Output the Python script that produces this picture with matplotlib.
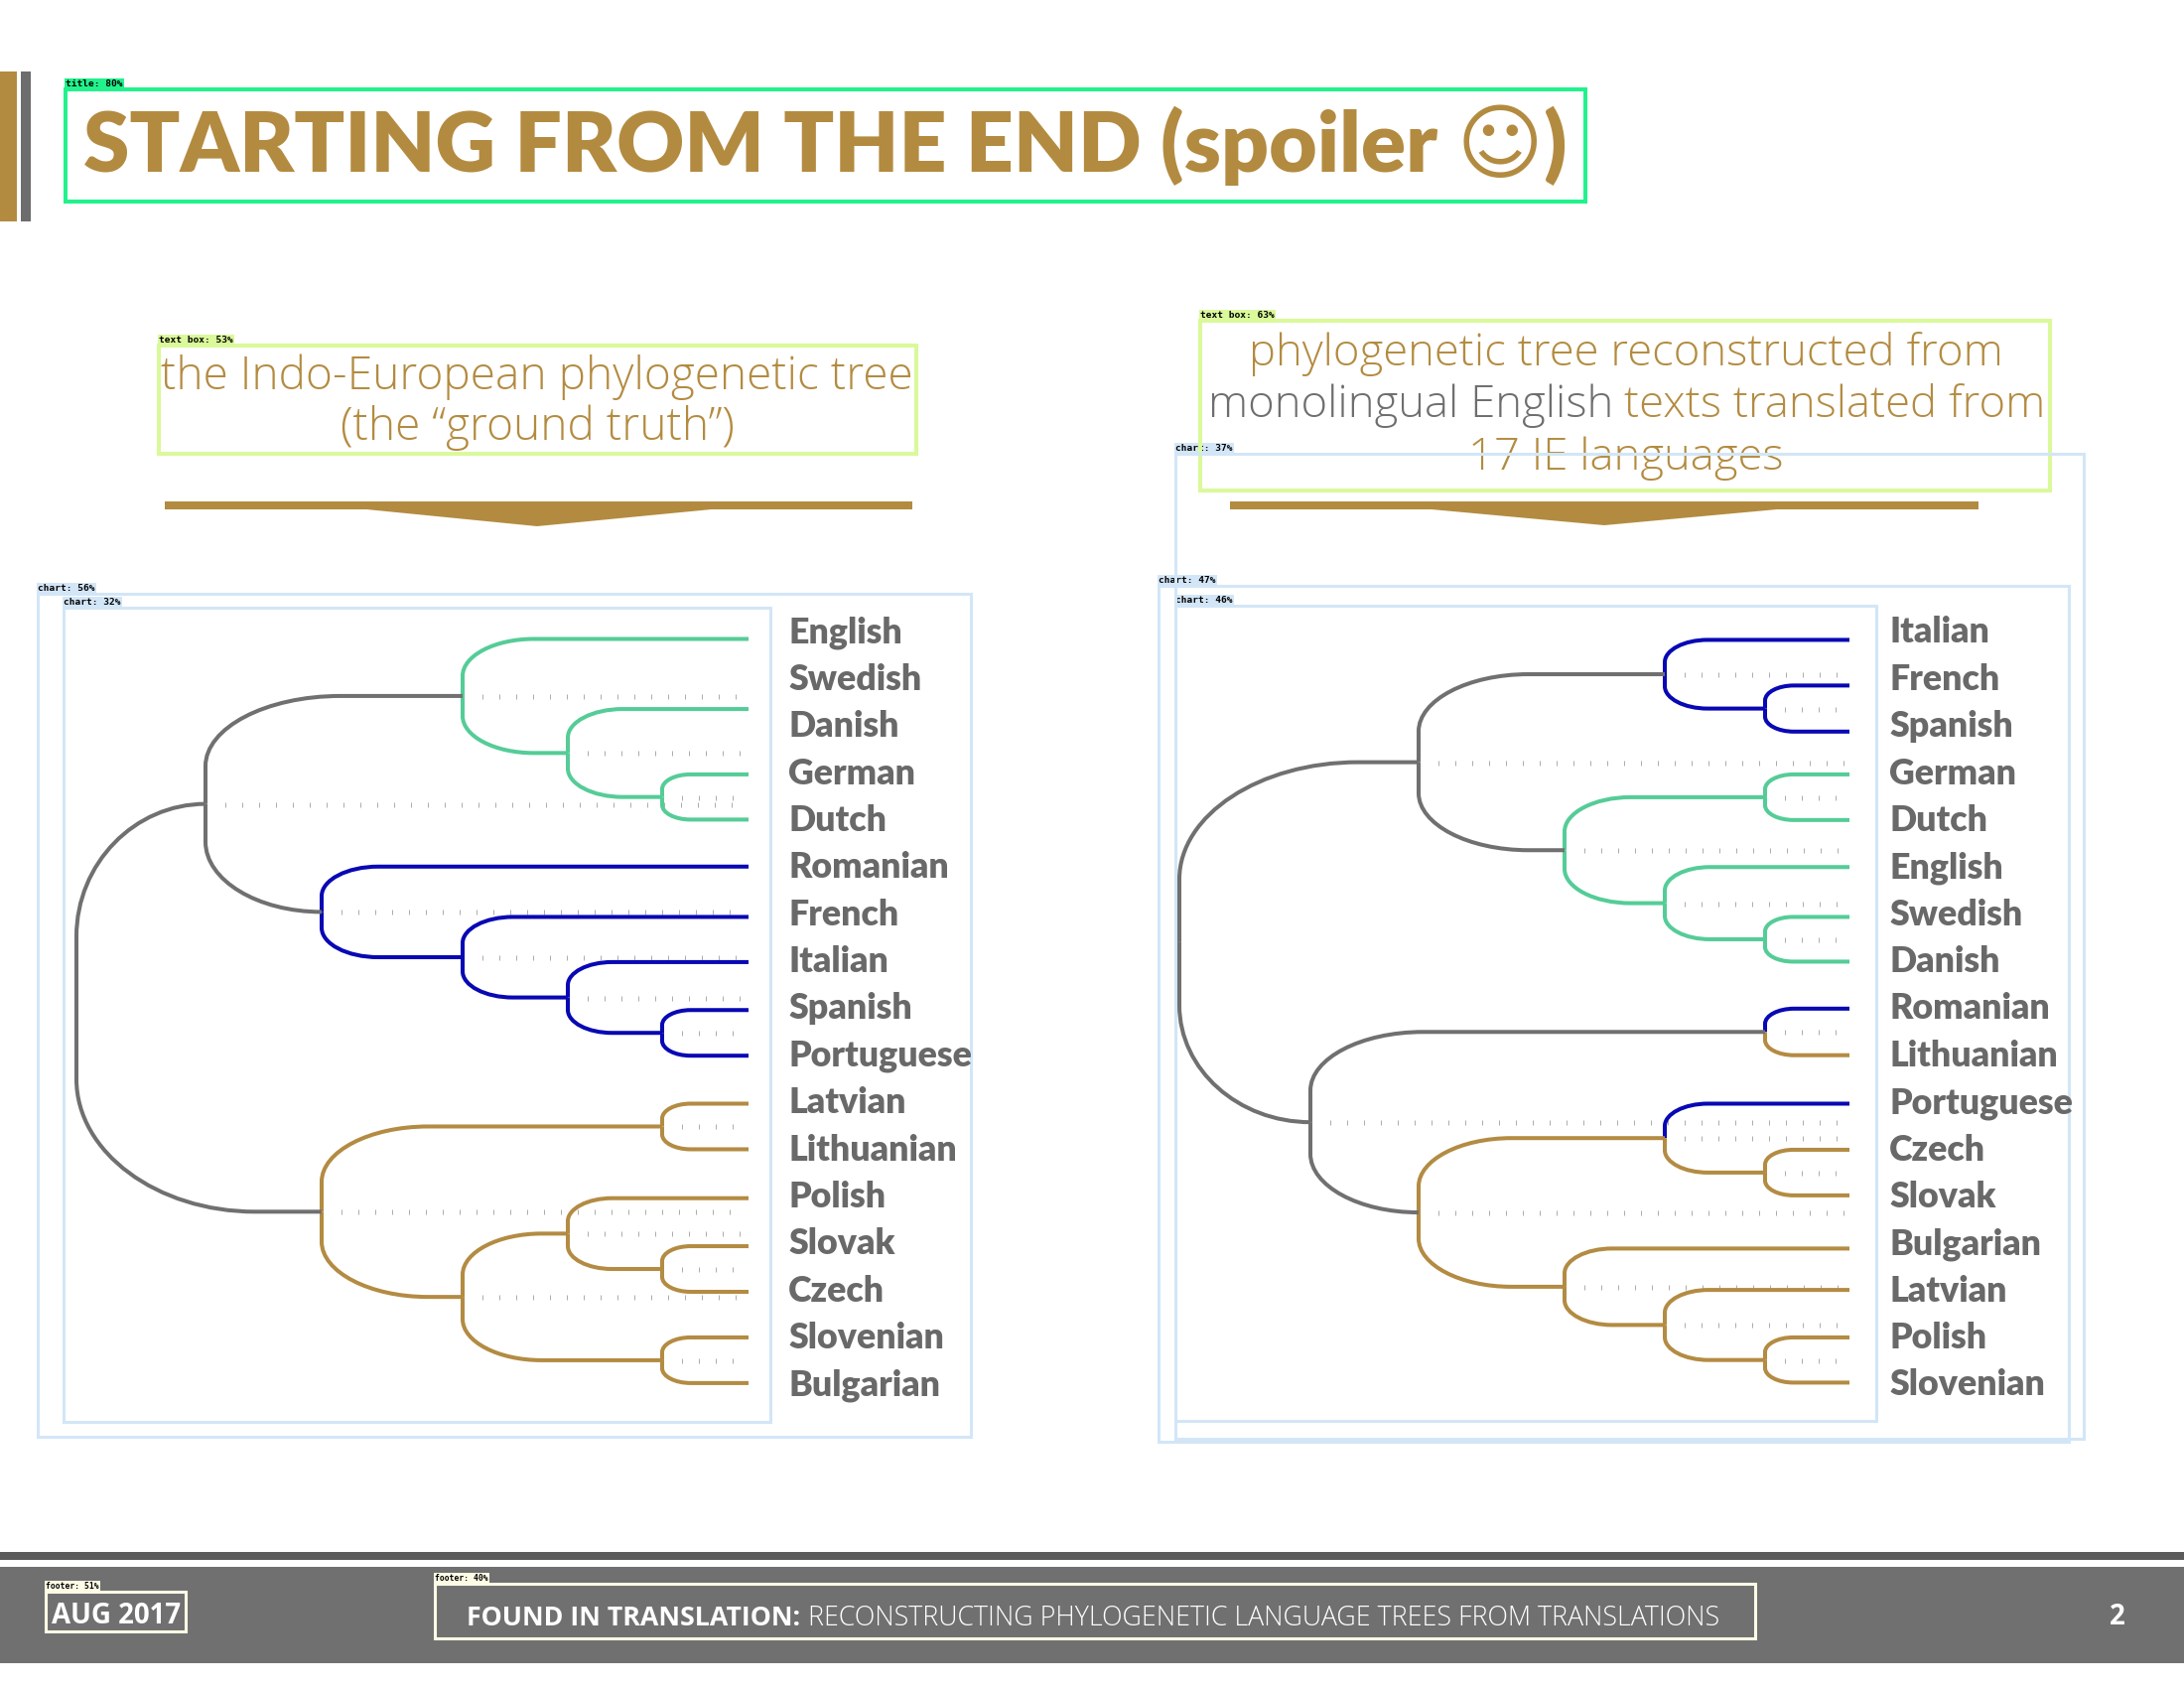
import matplotlib
matplotlib.use("Agg")
import matplotlib.pyplot as plt
import matplotlib.transforms as mtransforms
from matplotlib.patches import Rectangle, Polygon, PathPatch
from matplotlib.path import Path
import numpy as np

# ---------------------------------------------------------------- data
GREEN = "#55CC97"
BLUE = "#0808B4"
GOLD = "#B38B42"
GRAY = "#707070"

left_labels = ["English", "Swedish", "Danish", "German", "Dutch", "Romanian",
               "French", "Italian", "Spanish", "Portuguese", "Latvian",
               "Lithuanian", "Polish", "Slovak", "Czech", "Slovenian", "Bulgarian"]
# leaf positions (in label-slot units) and colours of the ground-truth tree
left_leaf_pos = [0.19, 1.68, 3.07, 4.03, 5.03, 6.10, 7.06, 8.08, 9.05,
                 10.07, 11.04, 12.08, 13.10, 14.07, 15.04, 16.01]
left_leaf_col = [GREEN] * 4 + [BLUE] * 5 + [GOLD] * 7
# links: (child a, child b, height, colour); new nodes numbered after leaves
left_links = [
    (2, 3, 0.87, GREEN), (1, 16, 1.82, GREEN), (0, 17, 2.88, GREEN),
    (7, 8, 0.87, BLUE), (6, 19, 1.82, BLUE), (5, 20, 2.88, BLUE), (4, 21, 4.30, BLUE),
    (18, 22, 5.47, GRAY),
    (9, 10, 0.87, GOLD), (12, 13, 0.87, GOLD), (11, 25, 1.82, GOLD),
    (14, 15, 0.87, GOLD), (26, 27, 2.88, GOLD), (24, 28, 4.30, GOLD),
    (23, 29, 6.77, GRAY),
]

right_labels = ["Italian", "French", "Spanish", "German", "Dutch", "English",
                "Swedish", "Danish", "Romanian", "Lithuanian", "Portuguese",
                "Czech", "Slovak", "Bulgarian", "Latvian", "Polish", "Slovenian"]
right_leaf_pos = [0.21, 1.18, 2.16, 3.07, 4.04, 5.04, 6.10, 7.05, 8.05, 9.04,
                  10.07, 11.05, 12.02, 13.15, 14.03, 15.04, 16.00]
right_leaf_col = [BLUE] * 3 + [GREEN] * 5 + [BLUE, GOLD, BLUE] + [GOLD] * 6
right_links = [
    (1, 2, 0.85, BLUE), (0, 17, 1.86, BLUE),
    (3, 4, 0.85, GREEN), (6, 7, 0.85, GREEN), (5, 20, 1.86, GREEN), (19, 21, 2.87, GREEN),
    (18, 22, 4.34, GRAY),
    (8, 9, 0.85, GRAY),
    (11, 12, 0.85, GOLD), (10, 25, 1.86, GOLD),
    (15, 16, 0.85, GOLD), (14, 27, 1.86, GOLD), (13, 28, 2.87, GOLD),
    (26, 29, 4.34, GOLD),
    (24, 30, 5.43, GRAY),
    (23, 31, 6.75, GRAY),
]

title_text = "STARTING FROM THE END (spoiler \u263A)"
left_sub = ["the Indo-European phylogenetic tree", "(the \u201cground truth\u201d)"]
right_sub1 = "phylogenetic tree reconstructed from"
right_sub2 = [("monolingual English", "#6E6E6E"), ("texts translated from", GOLD)]
right_sub3 = "17 IE languages"
footer_date = "AUG 2017"
footer_bold = "FOUND IN TRANSLATION:"
footer_light = "RECONSTRUCTING PHYLOGENETIC LANGUAGE TREES FROM TRANSLATIONS"
page_no = "2"

# ---------------------------------------------------------------- figure
FW, FH = 2200, 1700
fig = plt.figure(figsize=(22, 17), dpi=100)
fig.patch.set_facecolor("white")
bg = fig.add_axes([0, 0, 1, 1])
bg.set_xlim(0, FW)
bg.set_ylim(FH, 0)
bg.axis("off")
renderer = fig.canvas.get_renderer()

TITLE_GOLD = "#B38B40"
LABEL_GRAY = "#696969"
LAT = ["Lato", "DejaVu Sans"]
OPS = ["Open Sans", "Lato", "DejaVu Sans"]


def tw(s, size, weight="normal", family=LAT):
    t = bg.text(0, 0, s, fontsize=size, fontweight=weight, family=family)
    w = t.get_window_extent(renderer).width
    t.remove()
    return w


def fitted_size(s, target, weight="normal", family=LAT, ref=40):
    return ref * target / tw(s, ref, weight, family)


# ---- left decorative bars
bg.add_patch(Rectangle((0, 72), 17, 151, fc=TITLE_GOLD, ec="none"))
bg.add_patch(Rectangle((21, 72), 10, 151, fc="#6D6D6D", ec="none"))

# ---- title
ts = fitted_size(title_text, 1494, "heavy")
bg.text(84, 173, title_text, fontsize=ts, fontweight="heavy", family=LAT,
        color=TITLE_GOLD, ha="left", va="baseline")

# ---- subtitles
SW = "light"
ls = fitted_size(left_sub[0], 755, SW, OPS)
bg.text(541, 392, left_sub[0], fontsize=ls, fontweight=SW, family=OPS,
        color=TITLE_GOLD, ha="center", va="baseline")
bg.text(541, 443, left_sub[1], fontsize=ls, fontweight=SW, family=OPS,
        color=TITLE_GOLD, ha="center", va="baseline")

ref = 40
gap_ref = tw("a a", ref, SW, OPS) - tw("aa", ref, SW, OPS)
w_parts = [tw(p, ref, SW, OPS) for p, _ in right_sub2]
tot = sum(w_parts) + gap_ref
rs = ref * 842 / tot
scale = rs / ref
x0 = 1638 - 842 / 2
bg.text(x0, 420, right_sub2[0][0], fontsize=rs, fontweight=SW, family=OPS,
        color=right_sub2[0][1], ha="left", va="baseline")
bg.text(x0 + (w_parts[0] + gap_ref) * scale, 420, right_sub2[1][0], fontsize=rs,
        fontweight=SW, family=OPS, color=right_sub2[1][1], ha="left", va="baseline")
bg.text(1638, 368, right_sub1, fontsize=rs, fontweight=SW, family=OPS,
        color=TITLE_GOLD, ha="center", va="baseline")
bg.text(1638, 473, right_sub3, fontsize=rs, fontweight=SW, family=OPS,
        color=TITLE_GOLD, ha="center", va="baseline")

# ---- arrows
for (bx0, bx1, tx0, tx1, ax_, ay_) in [(166, 919, 359, 727, 541, 530),
                                       (1239, 1993, 1431, 1801, 1616, 529)]:
    bg.add_patch(Rectangle((bx0, 505), bx1 - bx0, 8, fc=TITLE_GOLD, ec="none"))
    bg.add_patch(Polygon([(tx0, 512), (tx1, 512), (ax_, ay_)], closed=True,
                         fc=TITLE_GOLD, ec="none"))

# ---- footer
bg.add_patch(Rectangle((0, 1563), FW, 8, fc="#5B5B5B", ec="none"))
bg.add_patch(Rectangle((0, 1578), FW, 97, fc="#707070", ec="none"))
ds = fitted_size(footer_date, 130, "bold", OPS)
bg.text(117, 1635, footer_date, fontsize=ds, fontweight="bold", family=OPS,
        color="white", ha="center", va="baseline")
gap_f = tw("A A", ref, SW, OPS) - tw("AA", ref, SW, OPS)
wb = tw(footer_bold, ref, "bold", OPS)
wl = tw(footer_light, ref, SW, OPS)
fs = ref * 1259 / (wb + gap_f + wl)
sc = fs / ref
bg.text(470, 1637, footer_bold, fontsize=fs, fontweight="bold", family=OPS,
        color="white", ha="left", va="baseline")
bg.text(470 + (wb + gap_f) * sc, 1637, footer_light, fontsize=fs, fontweight=SW,
        family=OPS, color="white", ha="left", va="baseline")
bg.text(2133, 1636, page_no, fontsize=ds, fontweight="bold", family=OPS,
        color="white", ha="center", va="baseline")

# ---- detection boxes and tags
TAGFONT = dict(family="DejaVu Sans Mono", fontweight="bold", fontsize=6.8, color="black")


def box(x0, y0, x1, y1, color, lw, tag=None, tagsize=6.8):
    bg.add_patch(Rectangle((x0, y0), x1 - x0, y1 - y0, fill=False, ec=color, lw=lw,
                           zorder=6))
    if tag:
        f = dict(TAGFONT)
        f["fontsize"] = tagsize
        bg.text(x0, y0 - 1, tag, ha="left", va="bottom", zorder=5,
                bbox=dict(boxstyle="square,pad=0.12", fc=color, ec="none"), **f)


CH = "#D3E6F7"
box(66, 90, 1597, 203, "#22F28C", 2.9, "title: 80%")
box(160, 348, 923, 457, "#DAF99A", 2.9, "text box: 53%")
box(1209, 323, 2065, 494, "#DAF99A", 2.9, "text box: 63%")
box(38, 598, 978, 1447, CH, 2.2, "chart: 56%")
box(64, 612, 776, 1432, CH, 2.2, "chart: 32%")
box(1167, 590, 2084, 1452, CH, 2.2, "chart: 47%")
box(1184, 457, 2099, 1449, CH, 2.2, "chart: 37%")
box(1184, 610, 1890, 1431, CH, 2.2, "chart: 46%")
box(46, 1603, 187, 1643, "#FFFCE6", 2.2, "footer: 51%", 5.8)
box(438, 1595, 1768, 1650, "#FFFCE6", 2.2, "footer: 40%", 5.8)

# ---------------------------------------------------------------- trees
Y_TOP, Y_BOT = 610.8, 1416.1   # pixel extent of slots -0.5 .. 16.5
LW = 2.9
LAB_SIZE = fitted_size("English", 115, "heavy")


def draw_tree(x_root, x_leaf, leaf_pos, leaf_col, links, labels, clip_x):
    ax = fig.add_axes([x_root / FW, (FH - Y_BOT) / FH, (x_leaf - x_root) / FW,
                       (Y_BOT - Y_TOP) / FH])
    ax.axis("off")
    hmax = max(l[2] for l in links)
    ax.set_xlim(hmax, 0)
    ax.set_ylim(len(labels) - 0.5, -0.5)
    pxx = (x_leaf - x_root) / hmax
    pxy = (Y_BOT - Y_TOP) / len(labels)
    n = len(leaf_pos)
    ys = list(leaf_pos)
    hs = [0.0] * n
    for a, b, h, c in links:
        ys.append((ys[a] + ys[b]) / 2)
        hs.append(h)
    k = 0.55
    for i, (a, b, h, c) in enumerate(links):
        node = n + i
        yp = ys[node]
        for ch in (a, b):
            col = leaf_col[ch] if ch < n else c
            yc, hc = ys[ch], hs[ch]
            s = np.sign(yc - yp)
            dy = abs(yc - yp) * pxy
            dx = (h - hc) * pxx
            ry = 0.65 * dy / pxy
            rx = min(dx, 1.25 * dy, 180) / pxx
            verts = [(h, yp), (h, yc - s * ry), (h, yc - s * ry * (1 - k)),
                     (h - rx * (1 - k), yc), (h - rx, yc), (hc, yc)]
            codes = [Path.MOVETO, Path.LINETO, Path.CURVE4, Path.CURVE4,
                     Path.CURVE4, Path.LINETO]
            ax.add_patch(PathPatch(Path(verts, codes), fill=False, ec=col, lw=LW,
                                   capstyle="butt", joinstyle="round", clip_on=False,
                                   zorder=3))
        if i < len(links) - 1:
            xs = np.arange(h - 0.2, 0.05, -0.17)
            ax.plot(xs, [yp] * len(xs), ls="none", marker="|", ms=3.6, mew=0.7,
                    color="#ABABAB", clip_on=False, zorder=2)
    trans = mtransforms.offset_copy(ax.get_yaxis_transform(), fig=fig,
                                    x=40, y=-13, units="dots")
    clipbox = mtransforms.Bbox([[0, 0], [clip_x, FH]])
    for j, lab in enumerate(labels):
        t = ax.text(1.0, j, lab, transform=trans, ha="left", va="baseline",
                    fontsize=LAB_SIZE, fontweight="heavy", family=LAT, color=LABEL_GRAY,
                    zorder=4)
        t.set_clip_box(clipbox)
        t.set_clip_on(True)
    return ax


draw_tree(77, 754, left_leaf_pos, left_leaf_col, left_links, left_labels, 982)
draw_tree(1188, 1863, right_leaf_pos, right_leaf_col, right_links, right_labels, 2090)

fig.savefig("out.png", dpi=100, facecolor="white")
